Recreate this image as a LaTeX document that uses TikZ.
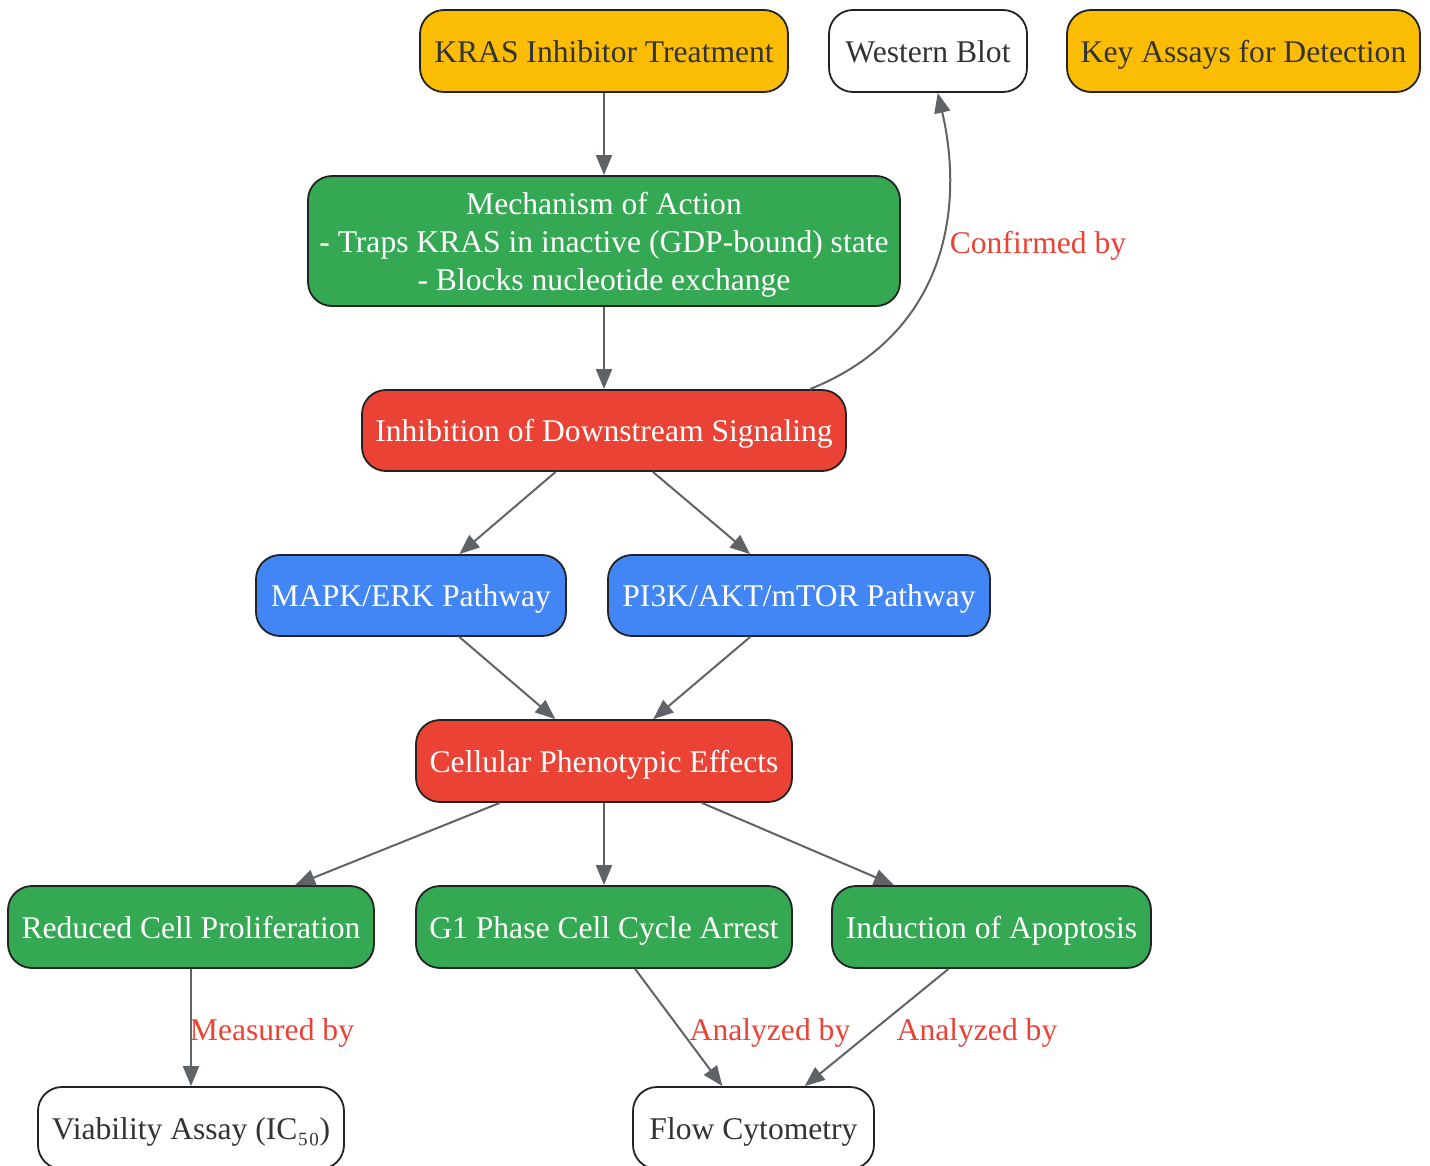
\documentclass[tikz,border=0pt]{standalone}
\usepackage{fontspec}
\setmainfont{Liberation Serif}
\usetikzlibrary{arrows.meta}
\definecolor{amber}{HTML}{FBBC04}
\definecolor{gleaf}{HTML}{34A853}
\definecolor{gred}{HTML}{EA4335}
\definecolor{gblue}{HTML}{4285F4}
\definecolor{edgegray}{HTML}{5F6368}
\definecolor{inkdark}{HTML}{333333}
\definecolor{rim}{HTML}{222222}
\tikzset{
  box/.style={draw=rim, line width=1.8pt, rounded corners=24pt, minimum height=82pt,
    inner sep=0pt, align=center, text height=26pt, text depth=3.4pt,
    font=\fontsize{31.6}{38}\selectfont},
  amberbox/.style={box, fill=amber, text=inkdark},
  whitebox/.style={box, fill=white, text=inkdark},
  greenbox/.style={box, fill=gleaf, text=white},
  redbox/.style={box, fill=gred, text=white},
  bluebox/.style={box, fill=gblue, text=white},
  tallbox/.style={greenbox, text height={}, text depth={}},
  link/.style={draw=edgegray, line width=2pt, -{Triangle[length=20pt, width=16pt]}},
  linklabel/.style={text=gred, font=\fontsize{31.6}{38}\selectfont, inner sep=0pt,
    text height=26pt, text depth=3.4pt}
}
\begin{document}
\begin{tikzpicture}[x=1pt, y=-1pt]
    \useasboundingbox (0,0) rectangle (1430,1165);

    % Ligne du haut
    \node[amberbox, minimum width=368pt] (kras) at (604,51) {KRAS Inhibitor Treatment};
    \node[whitebox, minimum width=198pt] (wblot) at (928,51) {Western Blot};
    \node[amberbox, minimum width=353pt] (assays) at (1243.5,51) {Key Assays for Detection};

    % Mecanisme et signalisation
    \node[tallbox, minimum width=592pt, minimum height=130pt] (moa) at (604,241)
        {\rule{0pt}{30pt}Mechanism of Action\\- Traps KRAS in inactive (GDP-bound) state\\- Blocks nucleotide exchange};
    \node[redbox, minimum width=484pt, minimum height=81pt] (inhib) at (604,430.5) {Inhibition of Downstream Signaling};
    \node[bluebox, minimum width=310pt, minimum height=81pt] (mapk) at (411,595.5) {MAPK/ERK Pathway};
    \node[bluebox, minimum width=382pt, minimum height=81pt] (pik) at (799,595.5) {PI3K/AKT/mTOR Pathway};

    % Effets
    \node[redbox, minimum width=376pt] (pheno) at (604,761) {Cellular Phenotypic Effects};
    \node[greenbox, minimum width=366pt] (prolif) at (191,927) {Reduced Cell Proliferation};
    \node[greenbox, minimum width=376pt] (gone) at (604,927) {G1 Phase Cell Cycle Arrest};
    \node[greenbox, minimum width=319pt] (apop) at (991.5,927) {Induction of Apoptosis};

    % Essais
    \node[whitebox, minimum width=306pt] (viab) at (191,1128) {Viability Assay (IC₅₀)};
    \node[whitebox, minimum width=241pt] (flow) at (753.5,1128) {Flow Cytometry};

    % Liens
    \draw[link] (kras) -- (moa);
    \draw[link] (moa) -- (inhib);
    \draw[link] ([xshift=206pt]inhib.north) .. controls (945,335) and (965,210) .. (wblot);
    \draw[link] (inhib) -- (mapk);
    \draw[link] (inhib) -- (pik);
    \draw[link] (mapk) -- (pheno);
    \draw[link] (pik) -- (pheno);
    \draw[link] (pheno) -- (prolif);
    \draw[link] (pheno) -- (gone);
    \draw[link] (pheno) -- (apop);
    \draw[link] (prolif) -- (viab);
    \draw[link] (gone) -- (flow);
    \draw[link] ([xshift=-43pt]apop.south) -- (flow);

    % Etiquettes
    \node[linklabel] (lconf) at (1038,242) {Confirmed by};
    \node[linklabel] (lmeas) at (272,1029) {Measured by};
    \node[linklabel] (lanaone) at (770,1029) {Analyzed by};
    \node[linklabel] (lanatwo) at (977,1029) {Analyzed by};
\end{tikzpicture}
\end{document}
